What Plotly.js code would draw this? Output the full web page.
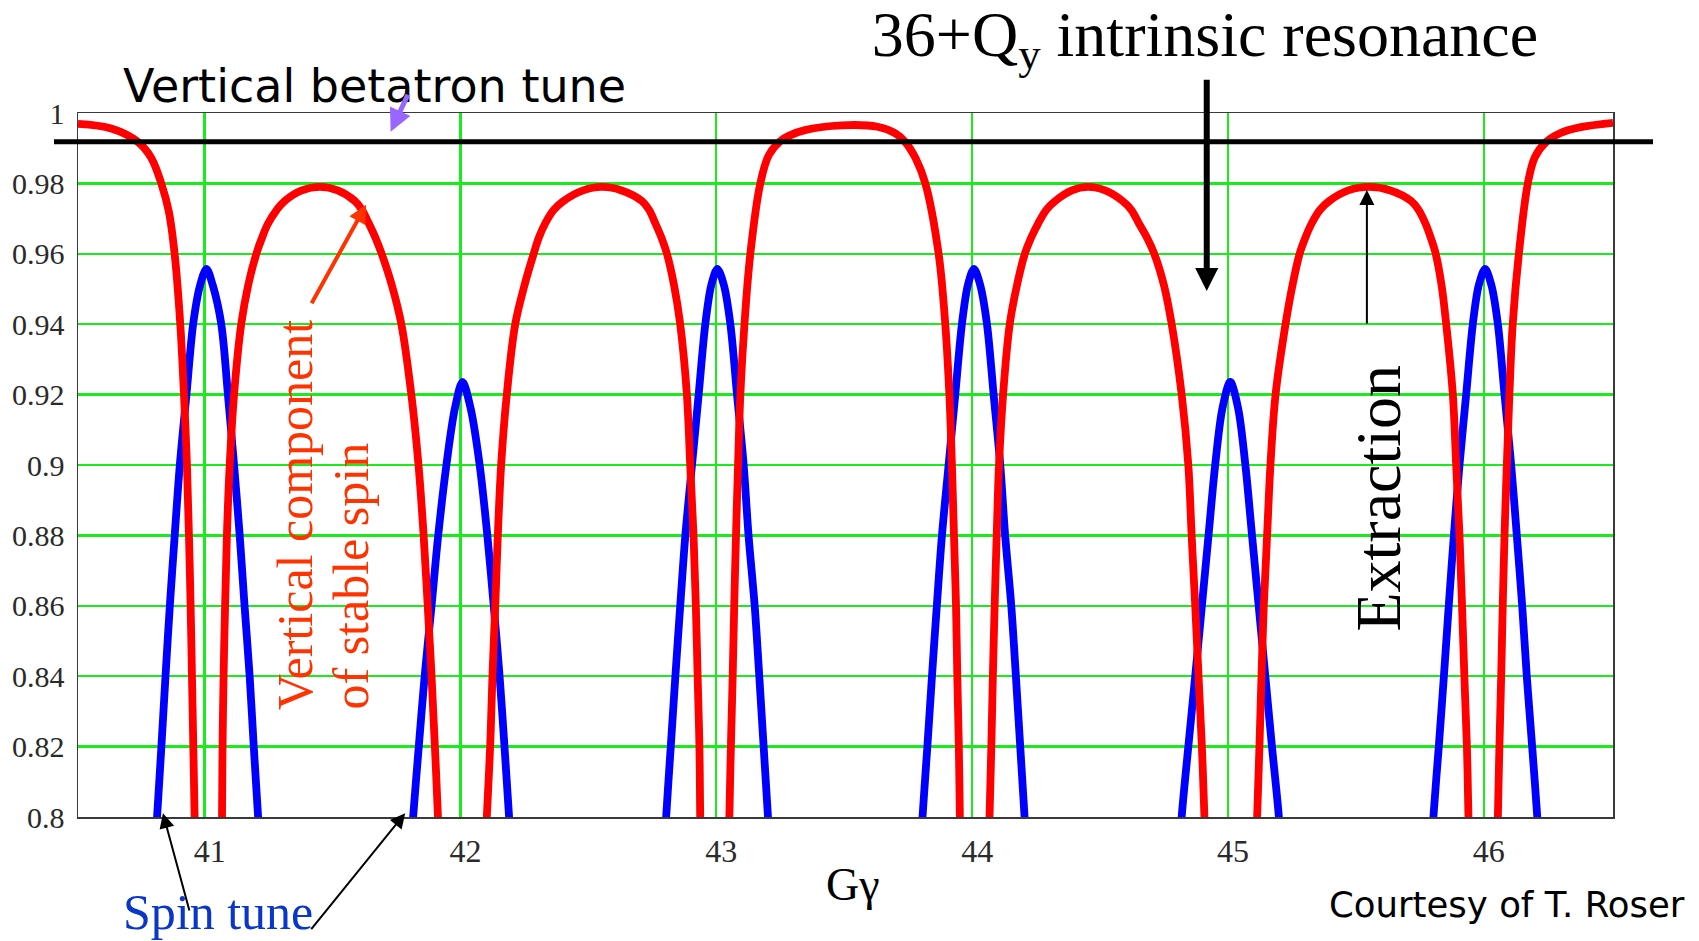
<!DOCTYPE html>
<html>
<head>
<meta charset="utf-8">
<script src="https://cdn.plot.ly/plotly-3.0.1.min.js"></script>
<style>
  html, body { margin: 0; padding: 0; background: #ffffff; }
  #chart { width: 1699px; height: 941px; }
</style>
</head>
<body>
<div id="chart"></div>
<script>
// ---- Data ----
// Vertical component of stable spin (red). Values below 0.8 are off-chart continuations.
const redGg = [
  40.505, 40.635, 40.739, 40.791, 40.8305, 40.860, 40.8827, 40.9048, 40.9192, 40.9309,
  40.9387, 40.9452, 40.9505, 40.9557, 40.9609, 40.976, 41.015, 41.060,
  41.068, 41.070, 41.074, 41.080, 41.087, 41.098, 41.115, 41.143, 41.170, 41.202, 41.224, 41.248, 41.282,
  41.313, 41.380, 41.450, 41.520, 41.587, 41.615, 41.642, 41.668, 41.692, 41.732, 41.769, 41.808, 41.836, 41.856, 41.872,
  41.887, 41.900, 41.912, 41.940, 42.010, 42.070,
  42.103, 42.116, 42.125, 42.136, 42.146, 42.159, 42.181, 42.214, 42.250, 42.286, 42.306, 42.331, 42.365,
  42.403, 42.480, 42.553, 42.630, 42.709, 42.737, 42.762, 42.786, 42.807, 42.835, 42.859, 42.885, 42.898, 42.911, 42.920,
  42.927, 42.934, 42.937, 42.946, 42.990, 43.035,
  43.051, 43.057, 43.064, 43.070, 43.077, 43.085, 43.094, 43.110, 43.133, 43.172,
  43.205, 43.250, 43.283, 43.350, 43.490, 43.630, 43.700, 43.738, 43.780, 43.817,
  43.869, 43.895, 43.911, 43.921, 43.929, 43.937, 43.942, 43.948, 43.952, 43.964,
  44.008, 44.050,
  44.068, 44.075, 44.081, 44.088, 44.096, 44.105, 44.121, 44.147, 44.175, 44.206, 44.230, 44.258, 44.290,
  44.325, 44.390, 44.452, 44.520, 44.588, 44.622, 44.652, 44.684, 44.712, 44.750, 44.780, 44.819, 44.845, 44.858, 44.872,
  44.885, 44.898, 44.908, 44.935, 45.010, 45.090,
  45.114, 45.123, 45.131, 45.140, 45.153, 45.166, 45.186, 45.225, 45.252, 45.280, 45.302, 45.327, 45.360,
  45.396, 45.470, 45.553, 45.635, 45.716, 45.745, 45.772, 45.793, 45.812, 45.835, 45.853, 45.879, 45.892, 45.905, 45.915,
  45.924, 45.934, 45.940, 45.955, 45.998, 46.040,
  46.055, 46.061, 46.068, 46.074, 46.081, 46.090, 46.100, 46.113, 46.137, 46.172,
  46.200, 46.244, 46.300, 46.374, 46.505
];
const redSpin = [
  0.9969, 0.9956, 0.9918, 0.9873, 0.980, 0.972, 0.960, 0.940, 0.920, 0.900,
  0.880, 0.860, 0.840, 0.820, 0.800, 0.740, 0.620, 0.740,
  0.800, 0.820, 0.840, 0.860, 0.880, 0.900, 0.920, 0.940, 0.951, 0.960, 0.9645, 0.9686, 0.9725,
  0.975, 0.978, 0.979, 0.978, 0.975, 0.9725, 0.9686, 0.9645, 0.960, 0.951, 0.940, 0.920, 0.900, 0.880, 0.860,
  0.840, 0.820, 0.800, 0.740, 0.550, 0.740,
  0.800, 0.820, 0.840, 0.860, 0.880, 0.900, 0.920, 0.940, 0.951, 0.960, 0.9645, 0.9686, 0.9725,
  0.975, 0.978, 0.979, 0.978, 0.975, 0.9725, 0.9686, 0.9645, 0.960, 0.951, 0.940, 0.920, 0.900, 0.880, 0.860,
  0.840, 0.820, 0.800, 0.740, 0.620, 0.740,
  0.800, 0.820, 0.840, 0.860, 0.880, 0.900, 0.920, 0.940, 0.960, 0.980,
  0.988, 0.992, 0.9935, 0.9952, 0.9965, 0.9961, 0.9942, 0.9918, 0.987, 0.980,
  0.960, 0.940, 0.920, 0.900, 0.880, 0.860, 0.840, 0.820, 0.800, 0.740,
  0.620, 0.740,
  0.800, 0.820, 0.840, 0.860, 0.880, 0.900, 0.920, 0.940, 0.951, 0.960, 0.9645, 0.9686, 0.9725,
  0.975, 0.978, 0.979, 0.978, 0.975, 0.9725, 0.9686, 0.9645, 0.960, 0.951, 0.940, 0.920, 0.900, 0.880, 0.860,
  0.840, 0.820, 0.800, 0.740, 0.550, 0.740,
  0.800, 0.820, 0.840, 0.860, 0.880, 0.900, 0.920, 0.940, 0.951, 0.960, 0.9645, 0.9686, 0.9725,
  0.975, 0.978, 0.979, 0.978, 0.975, 0.9725, 0.9686, 0.9645, 0.960, 0.951, 0.940, 0.920, 0.900, 0.880, 0.860,
  0.840, 0.820, 0.800, 0.740, 0.620, 0.740,
  0.800, 0.820, 0.840, 0.860, 0.880, 0.900, 0.920, 0.940, 0.960, 0.980,
  0.9875, 0.9918, 0.9943, 0.9959, 0.9972
];

// Spin tune (blue), one peak per integer G-gamma; null separates the peaks.
const blueGg = [
  40.797, 40.814, 40.831, 40.847, 40.864, 40.883, 40.903, 40.929, 40.955, 40.982, 41.007,
  41.032, 41.065, 41.091, 41.115, 41.137, 41.156, 41.176, 41.192, 41.209, 41.225, null,
  41.795, 41.815, 41.837, 41.860, 41.887, 41.913, 41.945, 41.978, 42.008,
  42.040, 42.075, 42.105, 42.130, 42.153, 42.172, 42.190, 42.207, null,
  42.790, 42.804, 42.822, 42.840, 42.859, 42.879, 42.905, 42.931, 42.957, 42.980, 43.004,
  43.030, 43.055, 43.081, 43.107, 43.126, 43.150, 43.168, 43.185, 43.202, 43.218, null,
  43.790, 43.806, 43.825, 43.843, 43.862, 43.882, 43.908, 43.934, 43.960, 43.983, 44.007,
  44.032, 44.058, 44.084, 44.110, 44.129, 44.153, 44.171, 44.188, 44.205, 44.222, null,
  44.802, 44.819, 44.845, 44.872, 44.898, 44.924, 44.950, 44.978, 45.009,
  45.040, 45.068, 45.094, 45.120, 45.146, 45.172, 45.199, 45.216, null,
  45.787, 45.803, 45.824, 45.844, 45.863, 45.883, 45.905, 45.931, 45.957, 45.980, 46.005,
  46.030, 46.055, 46.081, 46.107, 46.129, 46.150, 46.168, 46.189, 46.209, 46.225
];
const blueSpin = [
  0.780, 0.800, 0.820, 0.840, 0.860, 0.880, 0.900, 0.920, 0.940, 0.951, 0.9557,
  0.951, 0.940, 0.920, 0.900, 0.880, 0.860, 0.840, 0.820, 0.800, 0.780, null,
  0.780, 0.800, 0.820, 0.840, 0.860, 0.880, 0.900, 0.916, 0.9236,
  0.916, 0.900, 0.880, 0.860, 0.840, 0.820, 0.800, 0.780, null,
  0.780, 0.800, 0.820, 0.840, 0.860, 0.880, 0.900, 0.920, 0.940, 0.951, 0.9557,
  0.951, 0.940, 0.920, 0.900, 0.880, 0.860, 0.840, 0.820, 0.800, 0.780, null,
  0.780, 0.800, 0.820, 0.840, 0.860, 0.880, 0.900, 0.920, 0.940, 0.951, 0.9557,
  0.951, 0.940, 0.920, 0.900, 0.880, 0.860, 0.840, 0.820, 0.800, 0.780, null,
  0.780, 0.800, 0.820, 0.840, 0.860, 0.880, 0.900, 0.916, 0.9236,
  0.916, 0.900, 0.880, 0.860, 0.840, 0.820, 0.800, 0.780, null,
  0.780, 0.800, 0.820, 0.840, 0.860, 0.880, 0.900, 0.920, 0.940, 0.951, 0.9557,
  0.951, 0.940, 0.920, 0.900, 0.880, 0.860, 0.840, 0.820, 0.800, 0.780
];

// Vertical betatron tune level (black horizontal line)
const betatronTune = 0.9918;

// Axis ticks
const xTickVals = [41, 42, 43, 44, 45, 46];
const xTickText = ['41', '42', '43', '44', '45', '46'];
const yTickVals = [0.8, 0.82, 0.84, 0.86, 0.88, 0.9, 0.92, 0.94, 0.96, 0.98, 1];
const yTickText = ['0.8', '0.82', '0.84', '0.86', '0.88', '0.9', '0.92', '0.94', '0.96', '0.98', '1'];

// ---- Chart ----
const serif = 'Liberation Serif';
const casual = 'DejaVu Sans';

const traces = [
  {
    x: blueGg, y: blueSpin, type: 'scatter', mode: 'lines', name: 'Spin tune',
    line: { color: '#0000ff', width: 7.8, shape: 'spline', smoothing: 0.9 },
    connectgaps: false, hoverinfo: 'x+y'
  },
  {
    x: redGg, y: redSpin, type: 'scatter', mode: 'lines', name: 'Vertical component of stable spin',
    line: { color: '#ff0000', width: 7.8, shape: 'spline', smoothing: 1.0 },
    hoverinfo: 'x+y'
  }
];

const W = 1699, H = 941;
const L = 78, R = 1613, T = 113, B = 817;
const px = v => (v - L) / (R - L);   // pixel x -> paper
const py = v => (B - v) / (B - T);   // pixel y -> paper

const layout = {
  width: W, height: H,
  margin: { l: L, r: W - R, t: T, b: H - B, pad: 0 },
  paper_bgcolor: '#ffffff', plot_bgcolor: '#ffffff',
  showlegend: false,
  title: {
    text: '36+Q<sub>y</sub> intrinsic resonance',
    font: { family: serif, size: 64, color: '#000000' },
    x: 1205 / W, xref: 'container', xanchor: 'center',
    y: 1 - 11 / H, yref: 'container', yanchor: 'top'
  },
  xaxis: {
    range: [40.505, 46.505],
    tickvals: xTickVals, ticktext: xTickText,
    showgrid: true, gridcolor: '#1aeb1a', gridwidth: 2.3,
    zeroline: false, showline: true, mirror: true, linecolor: '#3a3a3a', linewidth: 1.5,
    ticks: '', ticklabelstandoff: 5, ticklabelshift: 5,
    tickfont: { family: serif, size: 32, color: '#2a2a2a' }
  },
  yaxis: {
    range: [0.8, 1.0],
    tickvals: yTickVals, ticktext: yTickText,
    showgrid: true, gridcolor: '#1aeb1a', gridwidth: 2.3,
    zeroline: false, showline: true, mirror: true, linecolor: '#3a3a3a', linewidth: 1.5,
    ticks: '', ticklabelstandoff: 6,
    tickfont: { family: serif, size: 30, color: '#2a2a2a' }
  },
  shapes: [
    {
      type: 'line', xref: 'paper', yref: 'y',
      x0: px(54), x1: px(1653), y0: betatronTune, y1: betatronTune,
      line: { color: '#000000', width: 5 }, layer: 'above'
    }
  ],
  annotations: [
    { text: 'Gγ', xref: 'paper', yref: 'paper',
      x: px(853), y: py(884), xanchor: 'center', yanchor: 'middle', showarrow: false,
      font: { family: serif, size: 46, color: '#000000' } },
    { text: 'Vertical betatron tune', xref: 'paper', yref: 'paper',
      x: px(121), y: py(86), xanchor: 'left', yanchor: 'middle', showarrow: false,
      font: { family: casual, size: 46, color: '#000000' } },
    { text: 'Courtesy of T. Roser', xref: 'paper', yref: 'paper',
      x: px(1507), y: py(904), xanchor: 'center', yanchor: 'middle', showarrow: false,
      font: { family: casual, size: 35.5, color: '#000000' } },
    { text: 'Spin tune', xref: 'paper', yref: 'paper',
      x: px(218), y: py(912), xanchor: 'center', yanchor: 'middle', showarrow: false,
      font: { family: serif, size: 50, color: '#0a37c8' } },
    { text: 'Extraction', xref: 'paper', yref: 'paper', textangle: -90,
      x: px(1378), y: py(634), xanchor: 'center', yanchor: 'bottom', showarrow: false,
      font: { family: serif, size: 64, color: '#000000' } },
    { text: 'Vertical component', xref: 'paper', yref: 'paper', textangle: -90,
      x: px(295), y: py(712), xanchor: 'center', yanchor: 'bottom', showarrow: false,
      font: { family: serif, size: 50, color: '#ff3300' } },
    { text: 'of stable spin', xref: 'paper', yref: 'paper', textangle: -90,
      x: px(350), y: py(712), xanchor: 'center', yanchor: 'bottom', showarrow: false,
      font: { family: serif, size: 50, color: '#ff3300' } },
    // arrows
    { text: '', x: 41.631, y: 0.9739, ax: 41.415, ay: 0.9455, xref: 'x', yref: 'y', axref: 'x', ayref: 'y',
      showarrow: true, arrowhead: 2, arrowsize: 0.9, arrowwidth: 4, arrowcolor: '#ff3300', standoff: 0 },
    { text: '', x: 41.727, y: 0.9947, ax: 41.797, ay: 1.0056, xref: 'x', yref: 'y', axref: 'x', ayref: 'y',
      showarrow: true, arrowhead: 2, arrowsize: 0.9, arrowwidth: 5, arrowcolor: '#9966ff', standoff: 0 },
    { text: '', x: 44.917, y: 0.9494, ax: 44.917, ay: 1.0099, xref: 'x', yref: 'y', axref: 'x', ayref: 'y',
      showarrow: true, arrowhead: 2, arrowsize: 0.77, arrowwidth: 6, arrowcolor: '#000000', standoff: 0 },
    { text: '', x: 45.543, y: 0.9781, ax: 45.543, ay: 0.9398, xref: 'x', yref: 'y', axref: 'x', ayref: 'y',
      showarrow: true, arrowhead: 2, arrowsize: 1.5, arrowwidth: 2, arrowcolor: '#000000', standoff: 0 },
    { text: '', x: 40.837, y: 0.8011, ax: 40.942, ay: 0.773, xref: 'x', yref: 'y', axref: 'x', ayref: 'y',
      showarrow: true, arrowhead: 2, arrowsize: 1.5, arrowwidth: 2, arrowcolor: '#000000', standoff: 0 },
    { text: '', x: 41.784, y: 0.8011, ax: 41.412, ay: 0.7677, xref: 'x', yref: 'y', axref: 'x', ayref: 'y',
      showarrow: true, arrowhead: 2, arrowsize: 1.5, arrowwidth: 2, arrowcolor: '#000000', standoff: 0 }
  ]
};

Plotly.newPlot('chart', traces, layout, { staticPlot: true, displayModeBar: false });
</script>
</body>
</html>
